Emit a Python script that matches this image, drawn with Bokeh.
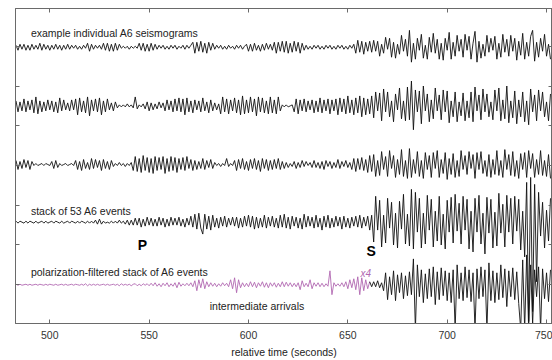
import numpy as np
from bokeh.plotting import figure
from bokeh.models import Range1d, LinearAxis, FixedTicker
from bokeh.core.properties import value
from bokeh.embed import file_html
from bokeh.resources import INLINE

# ---------------- data ----------------
t0 = 483.0          # start time of the traces (s)
dt = 1.0            # sample interval (s)
x_ticks = [500, 550, 600, 650, 700, 750]
y_ticks = [39, 79, 119, 159, 199, 239, 279]
magnified_until = 661.0   # filtered stack is shown x4 (magenta) up to this time

# example individual A6 seismogram 1 (amplitude, px units)
seis1 = [
    2,-3,3,-2,3,-3,2,-3,3,-2, 2,-2,4,-3,3,-2,2,-3,2,-2, 3,-2,2,-3,2,-2,3,-2,2,-1,
    2,-2,1,-2,2,-1,4,-4,3,-2, 2,-1,2,-2,4,-3,4,-4,3,-4, 4,-3,3,-1,1,-1,1,-2,1,-1,
    1,-1,4,-3,4,-4,3,-4,4,-3, 3,-2,2,-1,2,-2,1,-2,2,-1, 2,-2,1,-1,2,-2,2,-1,2,5,
    -6,5,-4,6,-5,4,-6,5,-3,4, -2,2,-1,2,-2,1,-2,2,-1,1, -2,2,-1,2,-2,1,3,-4,3,-4,
    4,-3,2,-4,3,-3,4,-2,3,-3, 5,-6,5,-4,6,-5,6,-6,4,-5, 6,-4,5,-6,4,-3,2,-2,1,-2,
    2,-1,2,-2,1,-2,2,-1,2,-2, 1,-2,2,-1,2,-2,1,-2,2,-1, 3,-6,7,-5,6,-7,5,-4,6,-5,
    7,-4,6,-9,3,-6,10,-2,9,-10, 5,-11,3,-7,12,-4,8,-9,17,-15, 4,-12,9,-3,13,-11,2,-12,10,-5,
    14,-6,8,-12,4,-13,9,-3,15,-12, 5,-9,12,-4,8,-10,13,-3,11,-12, 4,16,-15,6,-11,3,-9,12,-5,9,
    -3,11,-12,4,-10,13,-5,8,-9,12, -4,9,-13,6,-8,14,-12,5,-9,11, 17,-14,5,-10,9,-4,13,-9,3,-12,
]
# example individual A6 seismogram 2
seis2 = [
    5,-6,4,-5,7,-6,5,-4,6,-7, 9,-8,5,-6,4,-5,6,-4,5,-6, 4,-7,8,-5,6,-4,3,-5,6,-4,
    7,-9,8,-6,5,-7,9,-10,6,-5, 7,-6,8,-9,5,-6,7,-4,3,-5, 4,-2,1,-1,1,-1,2,-1,1,-2,
    9,-3,1,-1,2,-3,4,-5,3,-4, 2,-3,4,-2,3,-5,6,-4,5,-6, 7,-5,8,-6,7,-9,8,-6,5,-7,
    6,-4,5,-6,8,-5,4,-7,6,-5, 3,-4,2,-8,9,-6,7,-8,6,-5, 8,-7,6,-9,10,-8,6,-7,9,-6,
    7,-10,9,-6,8,-7,5,-8,9,-7, 6,-8,9,-5,1,-1,1,-1,0,1, -6,7,-8,6,-5,7,-6,5,-4,6,
    -7,5,-6,8,-7,6,-5,7,-8,6, -5,7,-9,8,-6,7,-8,10,-7,6, -9,8,-7,10,-11,8,-9,7,-8,10,
    -12,14,-5,13,-15,17,-6,14,-11,5, -16,12,-4,18,-13,5,-15,19,-14,25, -24,16,-6,15,-18,20,-5,12,-16,6,
    -13,18,-5,11,-14,16,-6,15,-17,5, -11,14,-16,4,-10,13,-15,5,-12,14, -16,19,-5,11,-14,17,-6,12,-11,4,
    -14,16,-5,18,-15,6,-13,20,-17,5, -12,15,-18,6,-11,14,-16,5,-19,17, -6,11,-15,16,-5,14,-11,4,-15,12,
]
# example individual A6 seismogram 3
seis3 = [
    4,-5,3,-4,5,-3,4,-5,3,-1, 1,-1,0,1,-1,1,0,-1,3,-4, 4,-3,1,-1,0,1,-1,0,1,-1,
    4,-5,3,-6,5,-4,2,-5,6,-4, 5,-3,4,-6,5,-4,3,-5,4,-2, 1,-1,2,-1,1,-2,1,-1,2,-6,
    8,-7,6,-8,9,-6,7,-8,6,-9, 8,-6,7,-5,8,-9,6,-7,8,-6, 7,-8,6,-5,7,-6,8,-4,5,-6,
    4,-5,3,-4,6,-5,4,-3,5,-4, 2,-1,1,-2,1,-1,6,-2,1,-1, 4,-6,5,-4,6,-5,3,-6,5,-4,
    6,-5,4,-7,6,-4,5,-6,4,-5, 5,-4,6,-5,3,-4,2,-3,1,-2, 3,-4,2,-3,4,-2,3,-1,2,-3,
    4,-3,2,-4,3,-5,4,-2,3,-4, 2,-3,5,-4,3,-2,4,-3,2,-5, 6,-7,6,-5,7,-6,5,-8,9,-7,
    10,-12,4,-11,13,-5,8,-12,14,-4, 9,-13,5,-10,15,-12,4,-14,16,-13, 5,-9,13,-12,4,-14,12,-5,9,-13,
    12,-4,14,-13,5,-9,12,-15,6,-10, 11,-13,4,-12,14,-5,9,-10,13,-4, 10,-14,12,-5,13,-9,4,-12,10,-13,
    5,-10,14,-11,4,-13,15,-5,10,-11, 13,-12,4,-14,11,-5,12,-13,14,-4, 11,-13,5,-10,14,-11,4,-12,10,-14,
]
# stack of 53 A6 events
stack53 = [
    1,-1,1,0,-1,1,-1,1,0,-1, 1,-1,0,1,-1,1,-1,0,1,-1, 1,0,-1,1,-1,0,1,-1,1,0,
    -1,1,-1,1,0,-1,1,-1,1,-1, 2,-2,3,-2,1,-1,0,-1,1,-1, 1,-1,2,-1,1,-2,2,-3,2,-3,
    4,-3,4,-5,3,-4,5,-3,4,-4, 3,-4,5,-3,4,-5,3,-4,5,-3, 4,-3,5,-4,3,-5,4,-3,6,-5,
    8,-7,9,-6,-12,8,-7,6,-8,7, -5,4,-6,5,-4,6,-5,4,-3,5, -4,5,-6,4,-5,6,-4,7,-5,6,
    -7,5,-6,4,-5,7,-6,5,-4,6, -5,4,-6,7,-5,8,-6,5,-7,6, -4,5,-6,4,-7,8,-5,6,-4,5,
    -6,7,-5,4,-8,6,-5,7,-6,4, -5,6,-4,5,-7,6,-5,4,-6,5, -4,6,-5,7,-6,5,-4,6,-8,7,
    -20,26,-8,22,-25,7,-21,24,-6,20, -23,9,-26,21,-7,28,-22,8,-24,33, -27,30,-10,24,-26,9,-22,27,-8,23,
    -25,11,-19,26,-23,8,-27,22,-10,25, -21,28,-9,19,-22,26,-8,23,-27,11, -30,24,-10,27,-22,9,-32,25,-11,23,
    -26,10,-24,29,-11,18,-25,27,-10,24, -22,26,-9,23,-28,11,-35,40,-100,45, -90,38,-60,30,-14,20,-26,12,-19,24,
]
# polarization-filtered stack of A6 events (x4 before magnified_until)
filtered = [
    0.5,-0.5,0.5,-0.5,0,0.5,-0.5,0.5,-0.5,0, 0.5,-0.5,0.5,0,-0.5,0.5,-0.5,0.5,0,-0.5, 0.5,-0.5,0,0.5,-0.5,0.5,-0.5,0,0.5,-0.5,
    0.5,0,-0.5,0.5,-0.5,1,-1,0.5,-0.5,0.5, -0.5,0.5,-0.5,0,0.5,-0.5,0.5,-0.5,0,0.5, -0.5,0.5,-1,1,-0.5,0.5,-0.5,0.5,-1,0.5,
    1,-1,0.5,-1,1,-0.5,1,-1,1.5,-1, 2,-1.5,1,-2,1.5,-1,2,-2,1,-1.5, 2,-3,2.5,-1.5,1,-1,1.5,-1,2,-2,
    4,-6,5,-3,6,-4,3,-2,2,-1.5, 1.5,-2,1,-1.5,2,-1,1.5,-2,5,-4, 7,-8,5,-3,2,-2,1.5,-2,3,-2,
    2.5,-3,2,-1.5,3,-2.5,2,-3,2,-1.5, 2,-2.5,1.5,-2,3,-2,2.5,-1.5,2,-2, 1.5,-2,2,-5,4,-2,1.5,-2,5,-4,
    2,-1.5,2,-2,1.5,-2,1,-1.5,14,-10, 2,-1.5,1,-1.5,2,-2,3,-4,5,-3, 6,-5,8,-10,7,-6,5,-4,3,-2,
    3,-2,4,-3,2,-6,12,-15,8,-10, 14,-16,10,-8,12,-14,9,-11,13,-10, 26,-45,20,-12,15,-18,11,-14,16,-12,
    18,-20,13,-15,17,-11,14,-16,12,-18, 15,-45,20,-14,12,-16,18,-13,15,-17, 12,-45,16,-14,18,-12,15,-45,22,-16,
    14,-18,12,-15,20,-13,16,-22,14,-12, 17,-15,13,-19,-45,25,-45,30,-45,20, -40,15,-12,18,-45,16,-14,12,-17,15,
]

# ---------------- layout / style ----------------
offsets = {"seis1": 278, "seis2": 219, "seis3": 160, "stack": 102, "filtered": 39}
INK = "#111111"
AX = "#6a6a6a"
MAGENTA = "#b168b1"
FONT = "Liberation Sans"

p = figure(width=552, height=360,
           x_range=Range1d(482.74, 753.0), y_range=Range1d(0, 317),
           output_backend="svg", toolbar_location=None,
           min_border_left=15, min_border_right=0, min_border_top=8, min_border_bottom=36)
p.grid.visible = False
p.outline_line_color = AX
p.outline_line_width = 1
p.background_fill_color = "white"
p.border_fill_color = "white"

# bottom axis
xa = p.xaxis[0]
xa.ticker = FixedTicker(ticks=x_ticks)
xa.major_tick_in = 4
xa.major_tick_out = 0
xa.minor_tick_line_color = None
xa.axis_line_color = AX
xa.major_tick_line_color = AX
xa.major_label_text_font = FONT
xa.major_label_text_font_size = "10.5px"
xa.major_label_text_color = "#333333"
xa.major_label_standoff = 7
xa.axis_label = "relative time (seconds)"
xa.axis_label_text_font = FONT
xa.axis_label_text_font_size = "10.5px"
xa.axis_label_text_font_style = "normal"
xa.axis_label_text_color = "#222222"
xa.axis_label_standoff = 4

def ticks_only(ax):
    ax.major_tick_in = 4
    ax.major_tick_out = 0
    ax.minor_tick_line_color = None
    ax.axis_line_color = AX
    ax.major_tick_line_color = AX
    ax.major_label_text_font_size = "0px"
    ax.major_label_text_color = None
    ax.major_label_standoff = 0

ya = p.yaxis[0]
ya.ticker = FixedTicker(ticks=y_ticks)
ticks_only(ya)

top = LinearAxis(ticker=FixedTicker(ticks=x_ticks))
ticks_only(top)
p.add_layout(top, "above")
right = LinearAxis(ticker=FixedTicker(ticks=y_ticks))
ticks_only(right)
p.add_layout(right, "right")

def times(vals):
    return t0 + dt * np.arange(len(vals))

for key, vals in (("seis1", seis1), ("seis2", seis2), ("seis3", seis3), ("stack", stack53)):
    p.line(times(vals), offsets[key] + np.asarray(vals, dtype=float), line_color=INK, line_width=0.9)

tf = times(filtered)
vf = offsets["filtered"] + np.asarray(filtered, dtype=float)
m = tf <= magnified_until
p.line(tf[m], vf[m], line_color=MAGENTA, line_width=0.9)
k = tf >= magnified_until
p.line(tf[k], vf[k], line_color=INK, line_width=0.9)

def label(x, y, s, size="10.5px", style="normal", color="#222222", align="left"):
    p.text(x=[x], y=[y], text=[s], text_font=value(FONT), text_font_size=size,
           text_font_style=style, text_color=color, text_align=align, text_baseline="middle")

label(490.5, 292, "example individual A6 seismograms")
label(490.5, 113, "stack of 53 A6 events")
label(490.5, 52, "polarization-filtered stack of A6 events")
label(580.5, 18, "intermediate arrivals")
label(544.3, 79, "P", size="14px", style="bold", color="#000000")
label(659.4, 73, "S", size="14px", style="bold", color="#000000")
label(656.4, 50, "x4", size="10px", style="italic", color=MAGENTA)

open("out.html", "w").write(file_html(p, INLINE))
